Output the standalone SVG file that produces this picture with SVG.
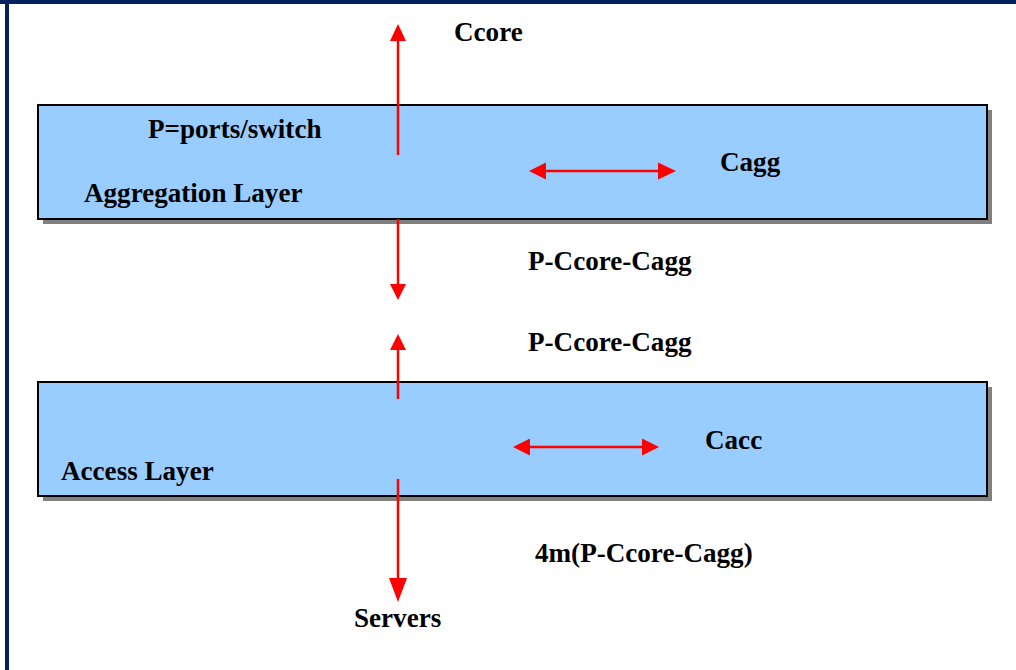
<svg xmlns="http://www.w3.org/2000/svg" width="1016" height="670" viewBox="0 0 1016 670">
<defs>
<style>
.lbl{font-family:"Liberation Serif","Times New Roman",serif;font-weight:bold;font-size:27.1px;fill:#000}
.box{fill:#99CCFF;stroke:#000;stroke-width:2}
.sh{fill:#808080}
.ln{stroke:#FF0000;stroke-width:2.5;fill:none}
.hd{fill:#FF0000}
</style>
</defs>
<rect x="0" y="0" width="1016" height="670" fill="#fff"/>
<rect x="0" y="0" width="1016" height="4" fill="#002060"/>
<rect x="5" y="0" width="4" height="670" fill="#002060"/>
<g id="aggregation">
<rect class="sh" x="43" y="110" width="949" height="114"/>
<rect class="box" x="38" y="105" width="949" height="114"/>
<text class="lbl" x="148" y="138">P=ports/switch</text>
<text class="lbl" x="84" y="202">Aggregation Layer</text>
<text class="lbl" x="720" y="171">Cagg</text>
</g>
<g id="access">
<rect class="sh" x="43" y="387" width="949" height="114"/>
<rect class="box" x="38" y="382" width="949" height="114"/>
<text class="lbl" x="61" y="480">Access Layer</text>
<text class="lbl" x="705" y="449">Cacc</text>
</g>
<g id="labels">
<text class="lbl" x="454" y="41">Ccore</text>
<text class="lbl" x="528" y="270">P-Ccore-Cagg</text>
<text class="lbl" x="528" y="351">P-Ccore-Cagg</text>
<text class="lbl" x="535" y="562">4m(P-Ccore-Cagg)</text>
<text class="lbl" x="354" y="627">Servers</text>
</g>
<g id="connectors">
<line class="ln" x1="398" y1="155" x2="398" y2="40"/>
<polygon class="hd" points="398,24 390,41 406,41"/>
<line class="ln" x1="398" y1="219" x2="398" y2="285"/>
<polygon class="hd" points="398,300 390,284 406,284"/>
<line class="ln" x1="398" y1="399" x2="398" y2="349"/>
<polygon class="hd" points="398,334 390,350 406,350"/>
<line class="ln" x1="398" y1="479" x2="398" y2="585"/>
<polygon class="hd" points="398,602 389,578 407,578"/>
<line class="ln" x1="545" y1="171" x2="659" y2="171"/>
<polygon class="hd" points="529,171 546,162.5 546,179.5"/>
<polygon class="hd" points="676,171 658,162.5 658,179.5"/>
<line class="ln" x1="529" y1="447" x2="643" y2="447"/>
<polygon class="hd" points="513,447 530,438.5 530,455.5"/>
<polygon class="hd" points="659,447 642,438.5 642,455.5"/>
</g>
</svg>
